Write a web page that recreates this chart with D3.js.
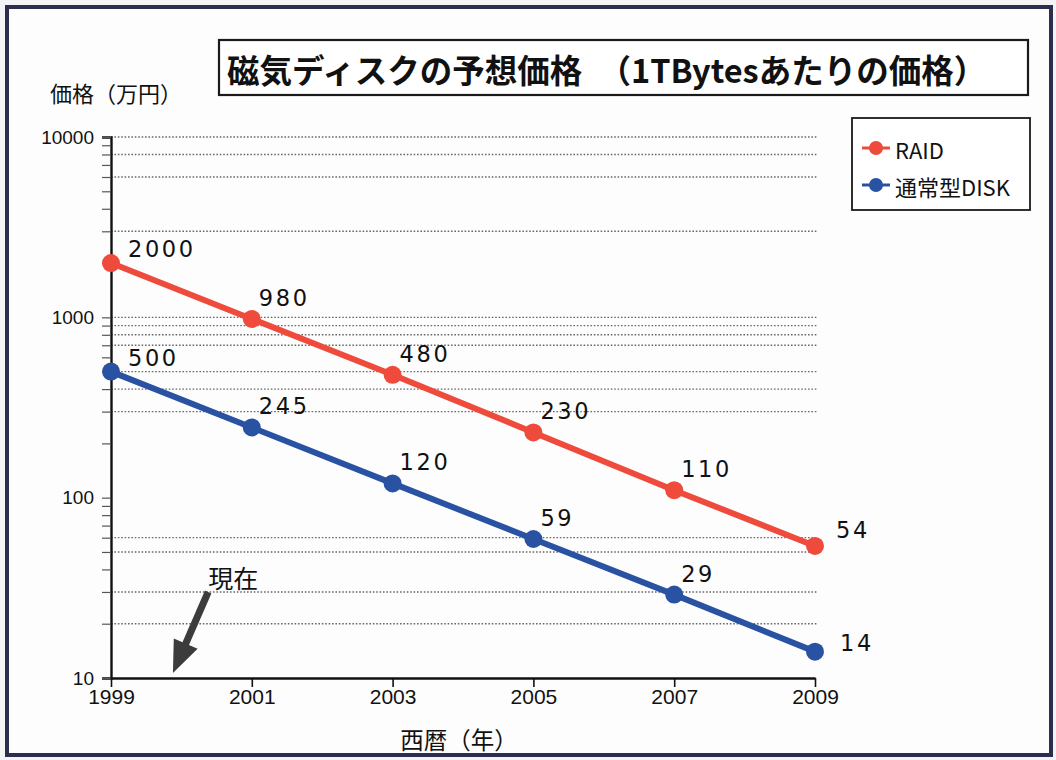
<!DOCTYPE html>
<html>
<head>
<meta charset="utf-8">
<script src="https://cdn.jsdelivr.net/npm/d3@7/dist/d3.min.js"></script>
<style>
  html, body { margin: 0; padding: 0; background: #ffffff; }
  svg { display: block; }
</style>
</head>
<body>
<svg id="chart" width="1056" height="760"></svg>
<script>
// Projected price of 1 TB of magnetic disk storage (万円), log scale
const years = [1999, 2001, 2003, 2005, 2007, 2009];
const raidPrices = [2000, 980, 480, 230, 110, 54];
const diskPrices = [500, 245, 120, 59, 29, 14];
const seriesNames = ["RAID", "通常型DISK"];
const seriesColors = ["#ef4b3c", "#2a52a2"];
const yLabelTicks = [10, 100, 1000, 10000];
const gridValues = [10000, 8000, 6000, 3000, 1000, 900, 800, 700, 500, 400, 300, 60, 50, 30, 20];
const titleText = "磁気ディスクの予想価格　（1TBytesあたりの価格）";
const yTitle = "価格（万円）";
const xTitle = "西暦（年）";
const nowLabel = "現在";

const svg = d3.select("#chart");
const W = 1056, H = 760;

// paper + frame
svg.append("rect").attr("width", W).attr("height", H).attr("fill", "#f4f4f6");
svg.append("rect").attr("x", 7).attr("y", 7).attr("width", W - 12).attr("height", H - 12)
  .attr("fill", "#fdfdfd").attr("stroke", "#2c2e4e").attr("stroke-width", 4);

const x = d3.scaleLinear().domain([1999, 2009]).range([111, 815]);
const y = d3.scaleLog().domain([10, 10000]).range([678, 137]);

// minor tick values 10..10000
const minorTicks = [];
for (let p = 10; p < 10000; p *= 10) {
  for (let k = 1; k < 10; k++) minorTicks.push(k * p);
}
minorTicks.push(10000);

// dotted gridlines
svg.append("g").selectAll("line").data(gridValues).join("line")
  .attr("x1", x(1999)).attr("x2", x(2009) + 2)
  .attr("y1", d => y(d)).attr("y2", d => y(d))
  .attr("stroke", "#6a6a6a").attr("stroke-width", 1.4)
  .attr("stroke-dasharray", "1.6,1.8");

// y axis
const yAxis = d3.axisLeft(y).tickValues(minorTicks).tickSize(9).tickPadding(8)
  .tickFormat(d => yLabelTicks.includes(d) ? String(d) : "");
const gy = svg.append("g").attr("transform", `translate(${x(1999)},0)`).call(yAxis);
gy.select(".domain").attr("stroke", "#111").attr("stroke-width", 2.4);
gy.selectAll(".tick line").attr("stroke", "#555").attr("stroke-width", 1.2);
gy.selectAll(".tick text").attr("font-family", "Liberation Sans, Arial, sans-serif")
  .attr("font-size", 19).attr("fill", "#111");

// x axis
const xAxis = d3.axisBottom(x).tickValues(years).tickFormat(d3.format("d"))
  .tickSize(9).tickSizeOuter(0).tickPadding(2);
const gx = svg.append("g").attr("transform", `translate(0,${y(10)})`).call(xAxis);
gx.select(".domain").attr("stroke", "#111").attr("stroke-width", 2.4);
gx.selectAll(".tick line").attr("stroke", "#111").attr("stroke-width", 1.6);
gx.selectAll(".tick text").attr("font-family", "Liberation Sans, Arial, sans-serif")
  .attr("font-size", 21).attr("fill", "#111");

// series lines and markers
const series = [raidPrices, diskPrices];
const line = d3.line().x((d, i) => x(years[i])).y(d => y(d));
series.forEach((vals, s) => {
  const g = svg.append("g");
  g.append("path").datum(vals).attr("d", line)
    .attr("fill", "none").attr("stroke", seriesColors[s]).attr("stroke-width", 6)
    .attr("stroke-linejoin", "round");
  g.selectAll("circle").data(vals).join("circle")
    .attr("cx", (d, i) => x(years[i])).attr("cy", d => y(d)).attr("r", 9)
    .attr("fill", seriesColors[s]);
});

// value labels, set above and to the right of each point
function labelOffset(i, n, s) {
  if (i === 0) return [17, -14];
  if (i === n - 1) return s === 0 ? [21, -16] : [25, -9];
  return [7, -21];
}
series.forEach((vals, s) => {
  svg.append("g").selectAll("text").data(vals).join("text")
    .attr("x", (d, i) => x(years[i]) + labelOffset(i, vals.length, s)[0])
    .attr("y", (d, i) => y(d) + labelOffset(i, vals.length, s)[1])
    .attr("dominant-baseline", "central")
    .attr("font-family", "DejaVu Sans, sans-serif").attr("font-size", 22.5)
    .attr("letter-spacing", 2.6).attr("fill", "#111")
    .text(d => d);
});

// title box
svg.append("rect").attr("x", 219).attr("y", 40).attr("width", 809).attr("height", 55)
  .attr("fill", "#fff").attr("stroke", "#1a1a1a").attr("stroke-width", 2.2);
svg.append("text").attr("x", 227).attr("y", 68).attr("dominant-baseline", "central")
  .attr("font-family", "Noto Sans CJK JP, sans-serif").attr("font-weight", "bold")
  .attr("font-size", 32.5).attr("fill", "#111").text(titleText);

// axis titles
svg.append("text").attr("x", 50).attr("y", 92).attr("dominant-baseline", "central")
  .attr("font-family", "Noto Sans CJK JP, sans-serif").attr("font-size", 22)
  .attr("fill", "#111").text(yTitle);
svg.append("text").attr("x", 459).attr("y", 739)
  .attr("text-anchor", "middle").attr("dominant-baseline", "central")
  .attr("font-family", "Noto Sans CJK JP, sans-serif").attr("font-size", 23.5)
  .attr("fill", "#111").text(xTitle);

// legend
const lg = svg.append("g");
lg.append("rect").attr("x", 852).attr("y", 118).attr("width", 178).attr("height", 92)
  .attr("fill", "#fff").attr("stroke", "#1a1a1a").attr("stroke-width", 1.8);
seriesNames.forEach((name, s) => {
  const cy = 148 + s * 37;
  lg.append("line").attr("x1", 862).attr("x2", 890).attr("y1", cy).attr("y2", cy)
    .attr("stroke", seriesColors[s]).attr("stroke-width", 3);
  lg.append("circle").attr("cx", 876).attr("cy", cy).attr("r", 7).attr("fill", seriesColors[s]);
  lg.append("text").attr("x", 895).attr("y", cy + 1).attr("dominant-baseline", "central")
    .attr("font-family", "Noto Sans CJK JP, sans-serif").attr("font-size", 22)
    .attr("fill", "#111").text(name);
});

// "now" annotation arrow pointing at the start of the time axis
const tip = [x(1999.88), y(10) - 5];
const tail = [x(2000.38), y(10) - 86];
const dx = tip[0] - tail[0], dy = tip[1] - tail[1];
const len = Math.hypot(dx, dy), ux = dx / len, uy = dy / len;
const headLen = 32, headHalf = 13;
const base = [tip[0] - ux * headLen, tip[1] - uy * headLen];
svg.append("line").attr("x1", tail[0]).attr("y1", tail[1])
  .attr("x2", base[0] + ux * 2).attr("y2", base[1] + uy * 2)
  .attr("stroke", "#3c3c3c").attr("stroke-width", 7);
svg.append("polygon")
  .attr("points", [tip, [base[0] - uy * headHalf, base[1] + ux * headHalf],
                   [base[0] + uy * headHalf, base[1] - ux * headHalf]].map(p => p.join(",")).join(" "))
  .attr("fill", "#3c3c3c");
svg.append("text").attr("x", tail[0]).attr("y", tail[1] - 15).attr("dominant-baseline", "central")
  .attr("font-family", "Noto Sans CJK JP, sans-serif").attr("font-size", 25)
  .attr("fill", "#111").text(nowLabel);
</script>
</body>
</html>
